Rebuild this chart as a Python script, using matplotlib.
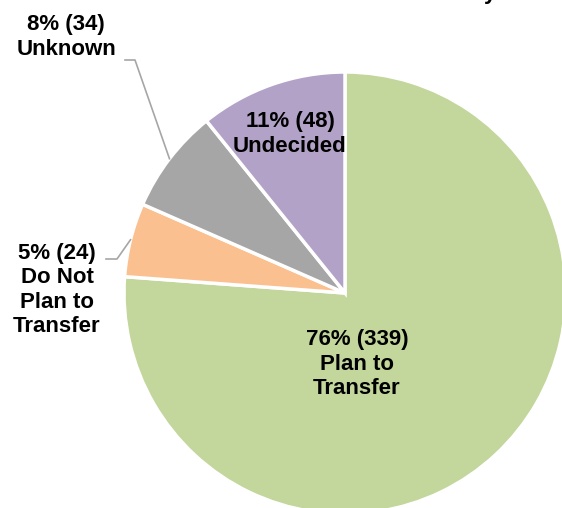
import matplotlib.pyplot as plt
import numpy as np

plt.rcParams['font.family'] = ['Liberation Sans', 'DejaVu Sans']

# slice data (clockwise from 12 o'clock)
labels = ['Plan to\nTransfer', 'Do Not\nPlan to\nTransfer', 'Unknown', 'Undecided']
counts = [339, 24, 34, 48]
colours = ['#C3D69B', '#FAC090', '#A6A6A6', '#B3A2C7']

W, H = 562, 508
fig = plt.figure(figsize=(W / 100, H / 100), dpi=100)
ax = fig.add_axes([0, 0, 1, 1])

cx, cy, r = 345, H - 293, 221
wedges, _ = ax.pie(counts, colors=colours, startangle=90, counterclock=False,
                   center=(cx, cy), radius=r, frame=True,
                   wedgeprops=dict(edgecolor='white', linewidth=2.5))
ax.set_xlim(0, W)
ax.set_ylim(0, H)
ax.set_aspect('equal')
ax.axis('off')

total = sum(counts)
txt = ['%d%% (%d)\n%s' % (round(100 * c / total), c, l) for c, l in zip(counts, labels)]
kw = dict(fontsize=16, fontweight='bold', ha='center', va='center', linespacing=1.2)

def edge_pt(w):
    a = np.deg2rad((w.theta1 + w.theta2) / 2)
    return cx + r * np.cos(a), cy + r * np.sin(a)

# inside labels
ax.text(357, H - 364, txt[0], **kw)
ax.text(290, H - 134, txt[3], **kw)

# outside labels with leader lines
ax.text(57, H - 290, txt[1], **kw)
ex, ey = edge_pt(wedges[1])
ax.plot([106, 117, ex], [H - 259, H - 259, ey], color='#A6A6A6', lw=1.2)

ax.text(66, H - 37, txt[2], **kw)
ex, ey = edge_pt(wedges[2])
ax.plot([125, 135, ex], [H - 60, H - 60, ey], color='#A6A6A6', lw=1.2)

# remnant of a cropped title above the chart
ax.text(490, H + 1, 'y', fontsize=16, fontweight='bold', ha='center', va='baseline',
        clip_on=False)

fig.savefig('out.png', dpi=100)
